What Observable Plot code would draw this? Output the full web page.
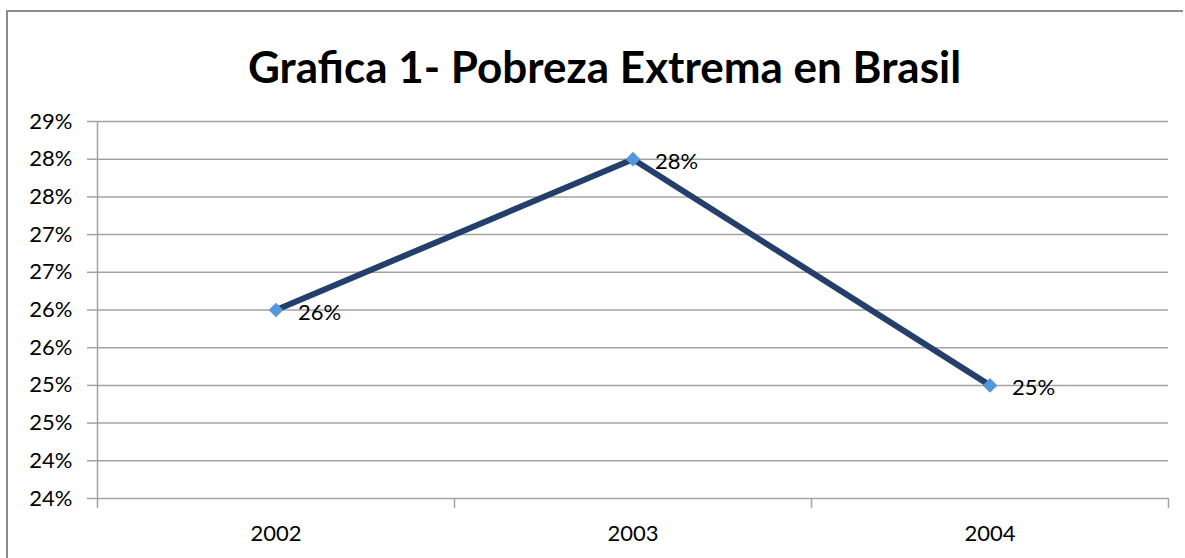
<!DOCTYPE html>
<html>
<head>
<meta charset="utf-8">
<script src="https://cdn.jsdelivr.net/npm/d3@7"></script>
<script src="https://cdn.jsdelivr.net/npm/@observablehq/plot@0.6"></script>
<style>
  html, body { margin: 0; padding: 0; background: #fff; overflow: hidden; width: 1185px; height: 558px; }
  #wrap { position: relative; width: 1185px; height: 558px; overflow: hidden; font-family: Lato, "Open Sans", sans-serif; }
  #lineL { position: absolute; left: 6px; top: 10px; width: 2px; height: 548px; background: #8c8c8c; }
  #lineT { position: absolute; left: 6px; top: 10px; width: 1177px; height: 2px; background: #8c8c8c; }
  #title { position: relative; height: 95px; padding-top: 44px; box-sizing: border-box; line-height: 44px; text-align: center; padding-left: 24px; font-weight: 700; font-size: 44px; color: #000; white-space: nowrap; }
  #chart { position: relative; width: 1185px; }
  #chart svg { display: block; }
</style>
</head>
<body>
<div id="wrap">
  <div id="lineL"></div>
  <div id="lineT"></div>
  <div id="title">Grafica 1- Pobreza Extrema en Brasil</div>
  <div id="chart"></div>
</div>
<script>
const years = ["2002", "2003", "2004"];
const pobreza = [0.26, 0.28, 0.25];
const yTicks = [0.235, 0.24, 0.245, 0.25, 0.255, 0.26, 0.265, 0.27, 0.275, 0.28, 0.285];

const data = years.map((year, i) => ({ year, idx: i + 0.5, value: pobreza[i] }));
const pct = d => Math.round(d * 100 + 1e-9) + "%";
const gridColor = "#a3a3a3";

const chart = Plot.plot({
  width: 1185,
  height: 463,
  marginTop: 26,
  marginBottom: 60,
  marginLeft: 97,
  marginRight: 17,
  style: { fontFamily: "Lato, 'Open Sans', sans-serif", fontSize: "22px", color: "#000", background: "transparent", overflow: "visible" },
  x: { type: "linear", domain: [0, years.length] },
  y: { type: "linear", domain: [yTicks[0], yTicks[yTicks.length - 1]] },
  marks: [
    Plot.ruleY(yTicks.slice(1), { x1: 0, x2: years.length, stroke: gridColor, strokeWidth: 1.5 }),
    Plot.axisY({ ticks: yTicks, tickFormat: pct, tickSize: 10, tickPadding: 15, stroke: gridColor, strokeWidth: 1.5, strokeOpacity: 1, fontSize: 22, label: null }),
    Plot.ruleX([0], { stroke: gridColor, strokeWidth: 1.5 }),
    Plot.ruleY([yTicks[0]], { x1: 0, x2: years.length, stroke: gridColor, strokeWidth: 1.5 }),
    Plot.axisX({ ticks: d3.range(years.length + 1), tickFormat: () => "", tickSize: 10, stroke: gridColor, strokeWidth: 1.5, strokeOpacity: 1, label: null }),
    Plot.axisX({ ticks: years.map((_, i) => i + 0.5), tickFormat: t => years[Math.floor(t)], tickSize: 0, tickPadding: 27, fontSize: 22, label: null }),
    Plot.line(data, { x: "idx", y: "value", stroke: "#243f6b", strokeWidth: 6, strokeLinejoin: "miter" }),
    Plot.dot(data, { x: "idx", y: "value", symbol: "diamond2", r: 6.6, fill: "#5597dc", stroke: "none" }),
    Plot.text(data, { x: "idx", y: "value", text: d => pct(d.value), textAnchor: "start", dx: 22, dy: 3, fontSize: 22, fill: "#000" })
  ]
});
document.getElementById("chart").appendChild(chart);
</script>
</body>
</html>
